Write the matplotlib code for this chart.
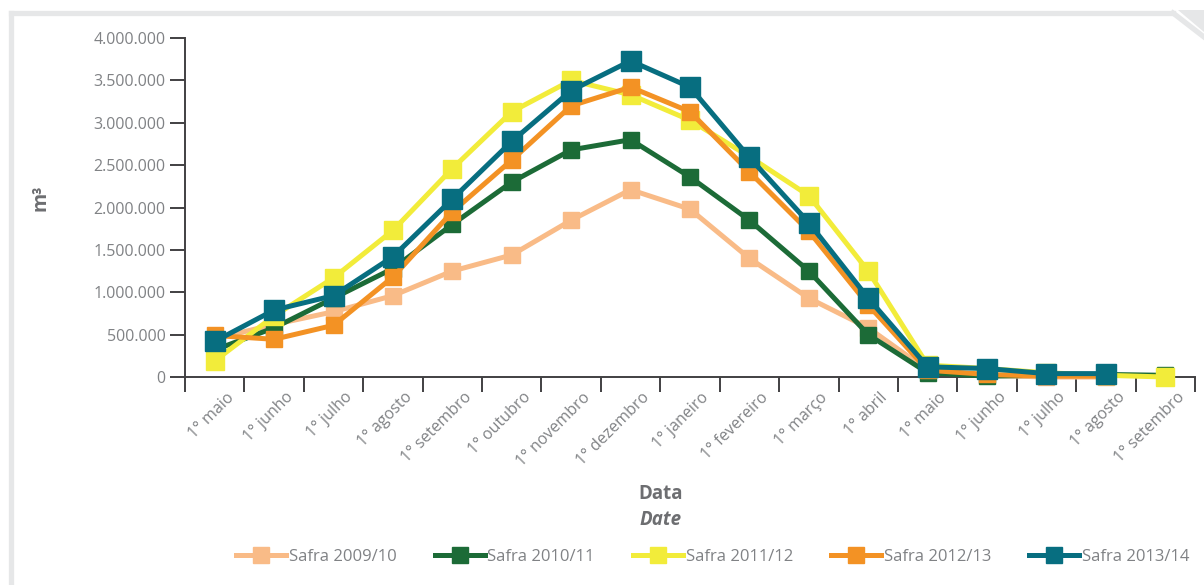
import matplotlib
matplotlib.use('Agg')
import matplotlib.pyplot as plt
from matplotlib.ticker import FuncFormatter, FixedLocator
from matplotlib.lines import Line2D
from matplotlib.patches import Polygon
from matplotlib.transforms import ScaledTranslation
import numpy as np

plt.rcParams['font.family'] = ['Open Sans', 'DejaVu Sans']

categories = ["1° maio", "1° junho", "1° julho", "1° agosto", "1° setembro", "1° outubro",
              "1° novembro", "1° dezembro", "1° janeiro", "1° fevereiro", "1° março", "1° abril",
              "1° maio", "1° junho", "1° julho", "1° agosto", "1° setembro"]

safra_2009 = [450000, 620000, 770000, 960000, 1250000, 1440000, 1850000, 2210000, 1980000,
              1400000, 930000, 580000, 80000, 20000, 0, 0, np.nan]
safra_2010 = [320000, 580000, 930000, 1280000, 1800000, 2300000, 2680000, 2800000, 2360000,
              1850000, 1250000, 500000, 50000, 10000, 20000, 30000, 20000]
safra_2011 = [190000, 720000, 1170000, 1730000, 2460000, 3130000, 3500000, 3330000, 3030000,
              2600000, 2140000, 1250000, 140000, 100000, 50000, 20000, 0]
safra_2012 = [490000, 445000, 610000, 1180000, 1950000, 2560000, 3200000, 3420000, 3130000,
              2420000, 1720000, 850000, 80000, 30000, 10000, 10000, np.nan]
safra_2013 = [420000, 790000, 960000, 1420000, 2100000, 2780000, 3380000, 3730000, 3420000,
              2590000, 1820000, 930000, 120000, 100000, 40000, 40000, np.nan]

series = [
    ("Safra 2009/10", safra_2009, "#F9BB87", 12),
    ("Safra 2010/11", safra_2010, "#1C6B37", 12),
    ("Safra 2011/12", safra_2011, "#F2EC3A", 12.5),
    ("Safra 2012/13", safra_2012, "#F39224", 12),
    ("Safra 2013/14", safra_2013, "#076E80", 15),
]

text_gray = "#808285"
axis_gray = "#414042"

fig = plt.figure(figsize=(12.04, 5.85), dpi=100)
ax = fig.add_axes([185/1204, 208/585, 1010/1204, 339/585])

x = np.arange(len(categories))
for label, vals, color, ms in series:
    ax.plot(x, vals, color=color, lw=3.6, marker='s', markersize=ms, label=label,
            solid_joinstyle='round', clip_on=False)

ax.set_xlim(-0.5, len(categories) - 0.5)
ax.set_ylim(0, 4000000)
ax.set_yticks(np.arange(0, 4000001, 500000))
ax.yaxis.set_major_formatter(FuncFormatter(lambda v, p: f"{int(v):,}".replace(",", ".")))

ax.xaxis.set_major_locator(FixedLocator(np.arange(-0.5, len(categories), 1.0)))
ax.xaxis.set_minor_locator(FixedLocator(x))
ax.set_xticklabels([], minor=False)
ax.set_xticklabels(categories, minor=True, rotation=45, ha='right', rotation_mode='anchor',
                   color=text_gray, fontsize=11.5)
ax.tick_params(axis='x', which='minor', length=0, pad=9)
ax.tick_params(axis='x', which='major', length=11, width=1.4, color=axis_gray, direction='out')
ax.tick_params(axis='y', length=11, width=1.4, color=axis_gray, labelcolor=text_gray,
               labelsize=11.5, pad=3)
shift = ScaledTranslation(11/100, 0, fig.dpi_scale_trans)
for lbl in ax.get_xticklabels(minor=True):
    lbl.set_transform(lbl.get_transform() + shift)

for s in ['top', 'right']:
    ax.spines[s].set_visible(False)
for s in ['left', 'bottom']:
    ax.spines[s].set_color(axis_gray)
    ax.spines[s].set_linewidth(1.4)
    ax.spines[s].set_zorder(0.5)

ax.set_ylabel("m³", fontsize=14, fontweight='bold', color="#6D6E71", labelpad=0)
ax.yaxis.set_label_coords(-0.133, 0.53)

fig.text(0.549, 0.155, "Data", ha='center', va='center', fontsize=13.5, fontweight='bold',
         color="#6D6E71")
fig.text(0.549, 0.111, "Date", ha='center', va='center', fontsize=13.5, fontweight='bold',
         style='italic', color="#6D6E71")

handles = [Line2D([0], [0], color=c, lw=3.6, marker='s', markersize=12) for _, _, c, _ in series]
leg = fig.legend(handles, [s[0] for s in series], loc='center', bbox_to_anchor=(0.592, 0.048),
                 ncol=5, frameon=False, handlelength=3.0, handletextpad=0.15,
                 columnspacing=2.3, fontsize=12, numpoints=1)
for t in leg.get_texts():
    t.set_color(text_gray)

# page frame decoration
frame_gray = "#E6E7E8"
fig.add_artist(Line2D([11/1204, 1173/1204], [1 - 13/585, 1 - 13/585], color=frame_gray, lw=3.8,
                      transform=fig.transFigure))
fig.add_artist(Line2D([1173/1204, 1204/1204], [1 - 13/585, 1 - 37/585], color=frame_gray, lw=3.8,
                      transform=fig.transFigure))
fig.add_artist(Line2D([11/1204, 11/1204], [1 - 13/585, 0], color=frame_gray, lw=3.8,
                      transform=fig.transFigure))
fig.add_artist(Polygon([[1178/1204, 1 - 10/585], [1, 1 - 10/585], [1, 1 - 32/585]], closed=True,
                       facecolor=frame_gray, edgecolor='none', transform=fig.transFigure))

fig.savefig("out.png", dpi=100, facecolor='white')
